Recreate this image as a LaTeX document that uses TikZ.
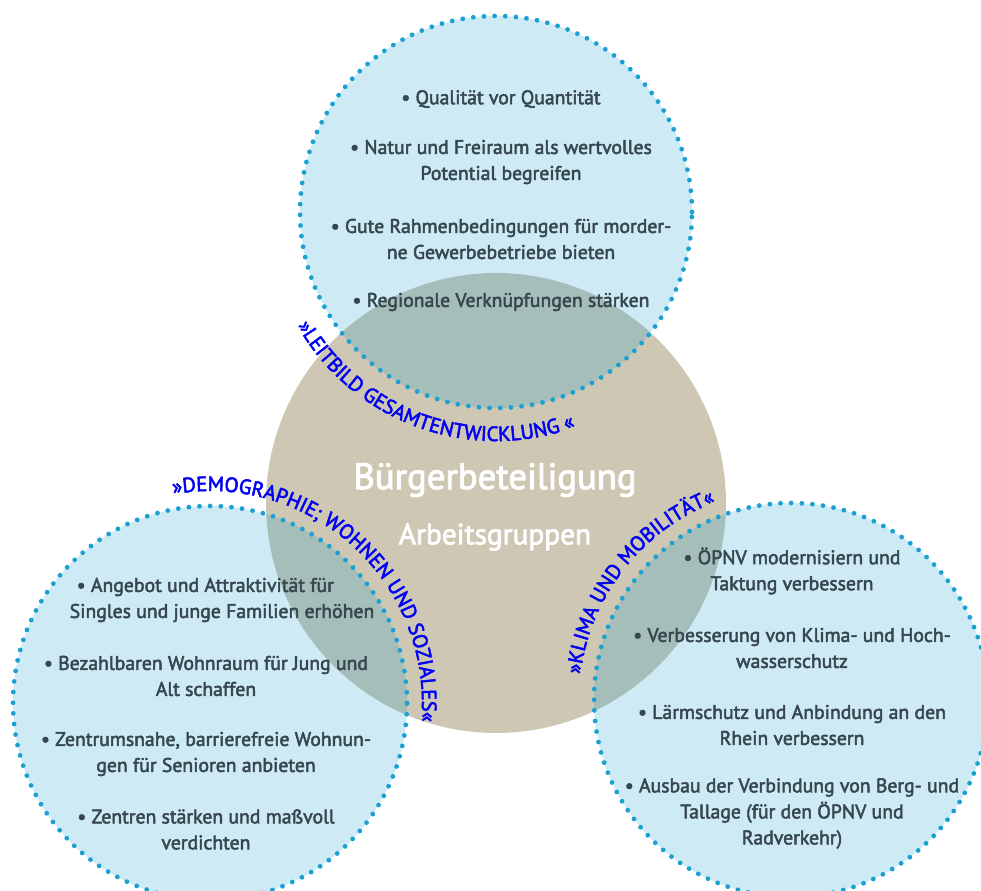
\documentclass[tikz,border=0pt]{standalone}
\usepackage{fontspec}
\setmainfont{PT Sans}[FakeBold=2.5]
\usetikzlibrary{decorations.text}
\definecolor{tanfill}{RGB}{206,199,179}
\definecolor{dotblue}{RGB}{27,161,209}
\definecolor{itemtext}{RGB}{55,71,79}
\definecolor{arcblue}{RGB}{0,0,245}
\tikzset{
  bubble/.style={fill=dotblue, fill opacity=0.22, draw=dotblue, draw opacity=1,
    line width=3.6pt, line cap=round, dash pattern=on 0pt off 8pt},
  item/.style={text=itemtext, align=center, inner sep=0pt,
    font=\fontsize{14.8}{19.5}\selectfont},
  bigtitle/.style={text=white, inner sep=0pt, font=\fontsize{27.5}{30}\selectfont},
  subtitle/.style={text=white, inner sep=0pt, font=\fontsize{22}{24}\selectfont},
  arclabel/.style={decorate, decoration={text along path, text align=center,
    text={|\color{arcblue}\fontsize{15.5}{18}\selectfont|#1}}},
}
\begin{document}
\begin{tikzpicture}[x=0.75pt,y=0.75pt]
\useasboundingbox (0,0) rectangle (981,-891);
% central circle
\fill[tanfill] (496,-503) circle[radius=230];
% outer circles
\path[bubble] (496,-212) circle[radius=196];
\path[bubble] (210,-703) circle[radius=197];
\path[bubble] (791,-700) circle[radius=197];
% centre titles
\node[bigtitle] (title) at (495,-480) {Bürgerbeteiligung};
\node[subtitle] (sub) at (495,-537) {Arbeitsgruppen};
% top items
\node[item] (t1) at (501,-99) {• Qualität vor Quantität};
\node[item] (t2) at (501,-162) {• Natur und Freiraum als wertvolles\\Potential begreifen};
\node[item] (t3) at (501,-239) {• Gute Rahmenbedingungen für morder-\\ne Gewerbebetriebe bieten};
\node[item] (t4) at (501,-302) {• Regionale Verknüpfungen stärken};
% bottom-left items
\node[item] (l1) at (222,-600) {\hspace*{-25pt}• Angebot und Attraktivität für\\Singles und junge Familien erhöhen};
\node[item] (l2) at (206,-676) {• Bezahlbaren Wohnraum für Jung und\\Alt schaffen};
\node[item] (l3) at (206,-754) {• Zentrumsnahe, barrierefreie Wohnun-\\gen für Senioren anbieten};
\node[item] (l4) at (206,-829.5) {• Zentren stärken und maßvoll\\verdichten};
% bottom-right items
\node[item] (r1) at (792,-571) {• ÖPNV modernisiern und\\Taktung verbessern};
\node[item] (r2) at (792,-648) {• Verbesserung von Klima- und Hoch-\\wasserschutz};
\node[item] (r3) at (792,-725) {• Lärmschutz und Anbindung an den\\Rhein verbessern};
\node[item] (r4) at (792,-813.5) {• Ausbau der Verbindung von Berg- und\\Tallage (für den ÖPNV und\\Radverkehr)};
% curved labels
\path[arclabel={»LEITBILD GESAMTENTWICKLUNG «}]
  (496,-212) ++(205:229) arc[start angle=205, end angle=295, radius=229];
\path[arclabel={»DEMOGRAPHIE; WOHNEN UND SOZIALES«}]
  (210,-703) ++(101:212) arc[start angle=101, end angle=-6, radius=212];
\path[arclabel={»KLIMA UND MOBILITÄT«}]
  (791,-700) ++(173:212) arc[start angle=173, end angle=111, radius=212];
\end{tikzpicture}
\end{document}
